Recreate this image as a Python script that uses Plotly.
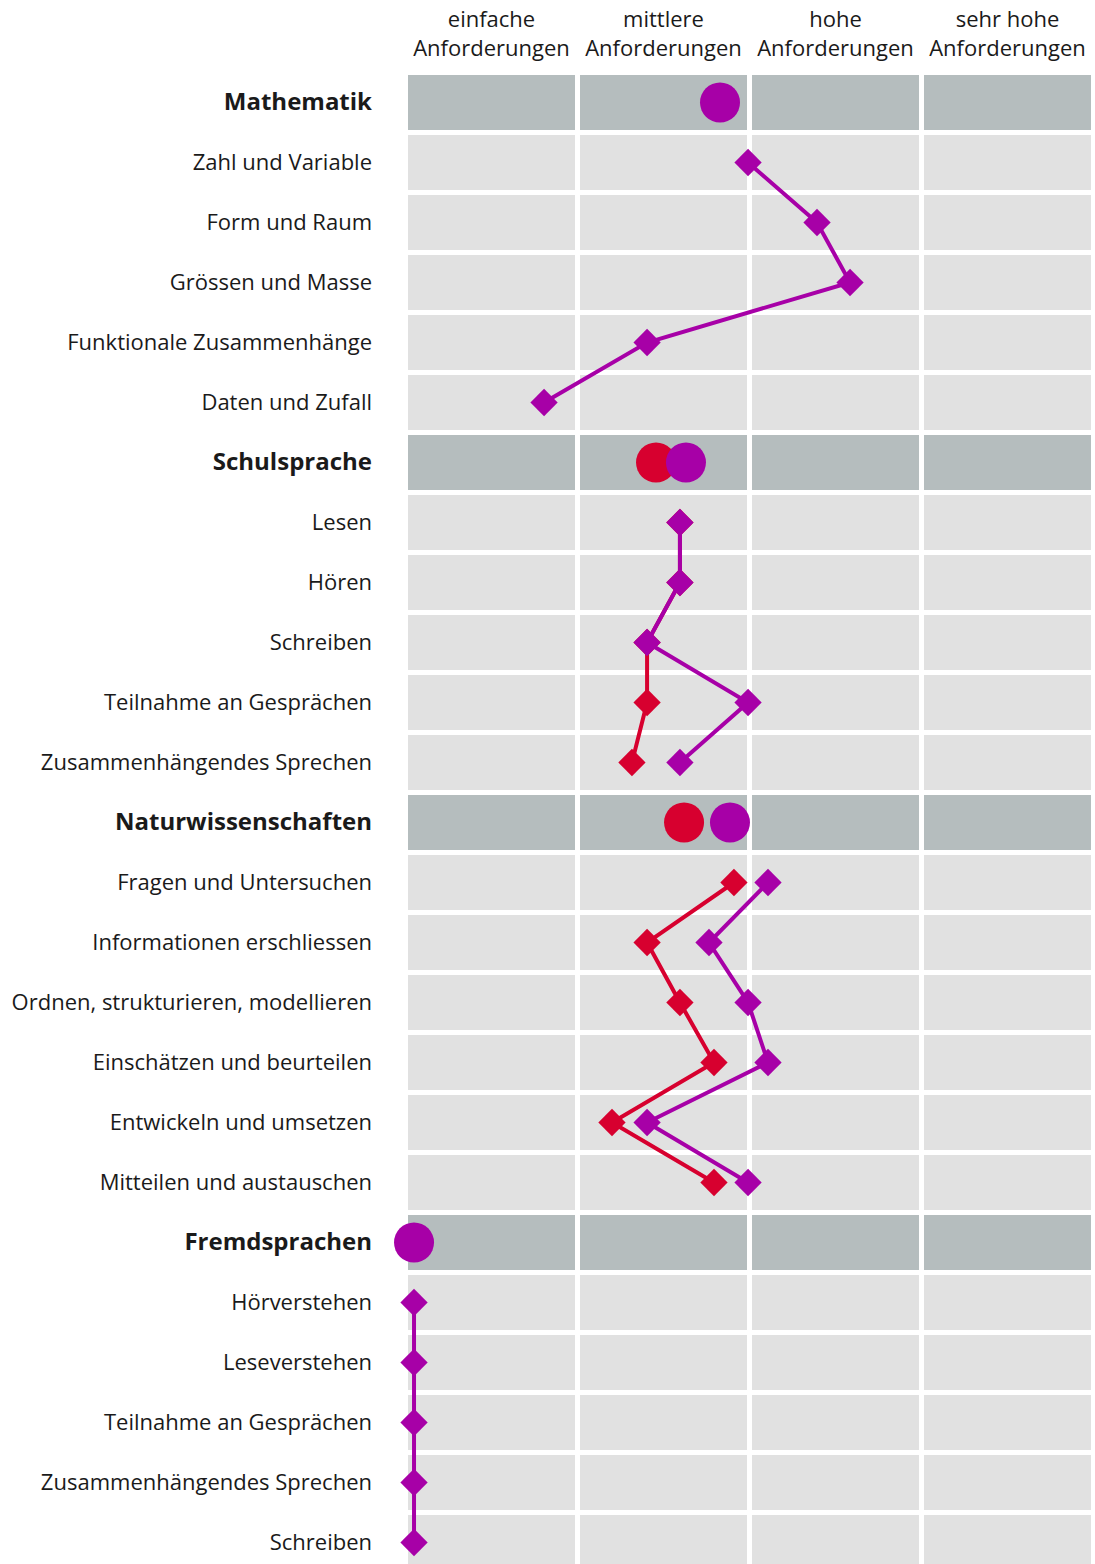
import plotly.graph_objects as go

# ---- data ----
levels = ["einfache<br>Anforderungen", "mittlere<br>Anforderungen",
          "hohe<br>Anforderungen", "sehr hohe<br>Anforderungen"]

rows = ["Mathematik", "Zahl und Variable", "Form und Raum", "Grössen und Masse",
        "Funktionale Zusammenhänge", "Daten und Zufall",
        "Schulsprache", "Lesen", "Hören", "Schreiben", "Teilnahme an Gesprächen",
        "Zusammenhängendes Sprechen",
        "Naturwissenschaften", "Fragen und Untersuchen", "Informationen erschliessen",
        "Ordnen, strukturieren, modellieren", "Einschätzen und beurteilen",
        "Entwickeln und umsetzen", "Mitteilen und austauschen",
        "Fremdsprachen", "Hörverstehen", "Leseverstehen", "Teilnahme an Gesprächen",
        "Zusammenhängendes Sprechen", "Schreiben"]

is_header = [True, False, False, False, False, False,
             True, False, False, False, False, False,
             True, False, False, False, False, False, False,
             True, False, False, False, False, False]

purple_values = [1.814, 1.977, 2.378, 2.570, 1.390, 0.791,
                 1.616, 1.581, 1.581, 1.390, 1.977, 1.581,
                 1.872, 2.093, 1.750, 1.977, 2.093, 1.390, 1.977,
                 0.035, 0.035, 0.035, 0.035, 0.035, 0.035]

red_values = [None, None, None, None, None, None,
              1.442, 1.581, 1.581, 1.390, 1.390, 1.302,
              1.605, 1.895, 1.390, 1.581, 1.779, 1.186, 1.779,
              None, None, None, None, None, None]

PURPLE = "#A700A7"
RED = "#D7002F"
HEADER_BG = "#B5BDBE"
ROW_BG = "#E1E1E1"

COL_W = 0.971   # band width inside each level (gap between bands)
ROW_H = 0.458   # half height of a row band

fig = go.Figure()

# background bands
shapes = []
for r, hdr in enumerate(is_header):
    for c in range(len(levels)):
        shapes.append(dict(type="rect", xref="x", yref="y", layer="below",
                           x0=c, x1=c + COL_W, y0=r - ROW_H, y1=r + ROW_H,
                           fillcolor=HEADER_BG if hdr else ROW_BG, line_width=0))

idx = list(range(len(rows)))

def sub_series(vals):
    return [None if (h or v is None) else v for v, h in zip(vals, is_header)]

def head_series(vals):
    return [v if (h and v is not None) else None for v, h in zip(vals, is_header)]

for vals, col in ((red_values, RED), (purple_values, PURPLE)):
    fig.add_trace(go.Scatter(
        x=sub_series(vals), y=idx, mode="lines+markers",
        line=dict(color=col, width=4), connectgaps=False,
        marker=dict(symbol="diamond", size=21, color=col),
        cliponaxis=False, hoverinfo="skip", showlegend=False))

for vals, col in ((red_values, RED), (purple_values, PURPLE)):
    fig.add_trace(go.Scatter(
        x=head_series(vals), y=idx, mode="markers",
        marker=dict(symbol="circle", size=40, color=col),
        cliponaxis=False, hoverinfo="skip", showlegend=False))

ticktext = [f"<span style='font-size:24px'><b>{t}</b></span>" if h else t
            for t, h in zip(rows, is_header)]

fig.update_layout(
    width=1095, height=1564,
    margin=dict(l=408, r=4, t=73, b=0, autoexpand=False),
    paper_bgcolor="white", plot_bgcolor="white",
    font=dict(family="Open Sans", size=22, color="#1a1a1a"),
    shapes=shapes, hovermode=False,
    xaxis=dict(range=[0, 683 / 172], side="top", showgrid=False, zeroline=False,
               showline=False, tickmode="array", automargin=False,
               tickvals=[c + COL_W / 2 for c in range(len(levels))],
               ticktext=levels, ticks="", ticklabelstandoff=12),
    yaxis=dict(range=[1461.5 / 60, -29.5 / 60], showgrid=False,
               zeroline=False, showline=False, tickmode="array", automargin=False,
               tickvals=idx, ticktext=ticktext, ticks="",
               ticklabelstandoff=35),
)

fig.write_html("out.html", config={"displayModeBar": False},
               post_script="document.body.style.margin='0px';"
                           "document.body.style.overflow='hidden';")
